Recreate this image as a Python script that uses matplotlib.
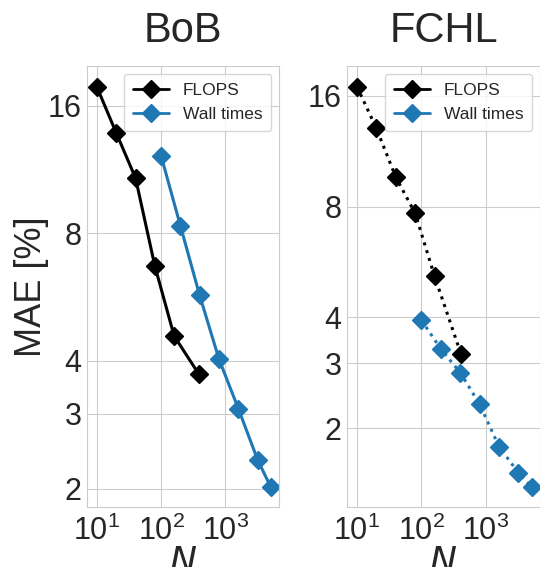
import matplotlib
matplotlib.use("Agg")
import matplotlib.pyplot as plt
import seaborn as sns
from matplotlib.lines import Line2D
from matplotlib.ticker import FixedLocator, NullLocator, FixedFormatter

# BoB panel
bob_flops_n = [10, 20, 40, 80, 160, 390]
bob_flops_mae = [17.7, 13.8, 10.8, 6.7, 4.58, 3.72]
bob_wall_n = [100, 200, 400, 800, 1600, 3200, 5100]
bob_wall_mae = [12.2, 8.34, 5.71, 4.04, 3.09, 2.34, 2.02]

# FCHL panel
fchl_flops_n = [10, 20, 40, 80, 160, 410]
fchl_flops_mae = [16.96, 13.06, 9.62, 7.67, 5.17, 3.18]
fchl_wall_n = [100, 200, 400, 800, 1600, 3200, 5200]
fchl_wall_mae = [3.93, 3.28, 2.83, 2.32, 1.78, 1.51, 1.38]

y_ticks = [2, 3, 4, 8, 16]
blue = "#1f77b4"

sns.set_style("whitegrid")
plt.rcParams['font.family'] = ['Arial', 'Liberation Sans', 'DejaVu Sans']

fig = plt.figure(figsize=(5.4, 5.67), dpi=100)
ax1 = fig.add_axes([87 / 540, 1 - 507 / 567, 192 / 540, 441 / 567])
ax2 = fig.add_axes([347 / 540, 1 - 507 / 567, 193 / 540, 441 / 567])

panels = [
    (ax1, "BoB", bob_flops_n, bob_flops_mae, bob_wall_n, bob_wall_mae, "-", (1.81, 19.85)),
    (ax2, "FCHL", fchl_flops_n, fchl_flops_mae, fchl_wall_n, fchl_wall_mae, ":", (1.22, 19.3)),
]

# legend always shows solid lines
handles = [
    Line2D([], [], color="black", marker="D", markersize=9.5, lw=2),
    Line2D([], [], color=blue, marker="D", markersize=9.5, lw=2),
]

for ax, title, fn, fm, wn, wm, ls, ylim in panels:
    ax.plot(fn, fm, ls, color="black", marker="D", markersize=9.5, lw=2.2)
    ax.plot(wn, wm, ls, color=blue, marker="D", markersize=9.5, lw=2.2)
    ax.set_xscale("log")
    ax.set_yscale("log")
    ax.set_xlim(7.0, 6900)
    ax.set_ylim(*ylim)
    ax.yaxis.set_major_locator(FixedLocator(y_ticks))
    ax.yaxis.set_major_formatter(FixedFormatter([str(t) for t in y_ticks]))
    ax.yaxis.set_minor_locator(NullLocator())
    ax.xaxis.set_major_locator(FixedLocator([10, 100, 1000]))
    ax.xaxis.set_minor_locator(NullLocator())
    ax.tick_params(labelsize=22)
    ax.tick_params(axis="x", pad=3)
    ax.tick_params(axis="y", pad=0.5)
    ax.set_title(title, fontsize=30, pad=17)
    ax.set_xlabel("$N$", fontsize=26, labelpad=-2)
    ax.legend(handles, ["FLOPS", "Wall times"], loc="upper right", fontsize=12.5,
              frameon=True, borderpad=0.5, labelspacing=0.55, handlelength=2.1,
              framealpha=0.8, borderaxespad=0.45)

ax1.set_ylabel("MAE [%]", fontsize=26, labelpad=-1)

fig.savefig("out.png", dpi=100)
